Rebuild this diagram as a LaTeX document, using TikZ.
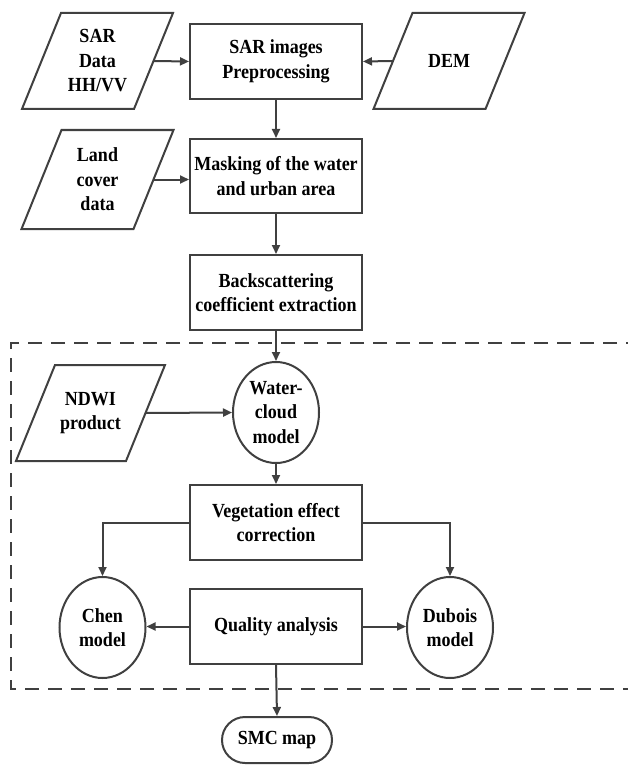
\documentclass[tikz,border=0pt]{standalone}
\usepackage{fontspec}
\setmainfont{Liberation Serif}[FakeStretch=0.9]
\usetikzlibrary{shapes.geometric,arrows.meta,positioning}
\definecolor{edge}{HTML}{404040}
\tikzset{
  x=1pt, y=-1pt,
  base/.style={draw=edge, line width=2pt, align=center, inner sep=0pt,
    font=\fontsize{20}{24.5}\selectfont\bfseries},
  procbox/.style={base, rectangle, minimum width=172pt, minimum height=75pt},
  % text holder of a data input; its slanted outline is drawn by \slantframe
  databox/.style={base, draw=none, rectangle, minimum width=110pt, minimum height=94pt},
  outline/.style={draw=edge, line width=2pt, line join=miter},
  modelnode/.style={base, ellipse, minimum width=86pt, minimum height=101pt},
  endnode/.style={base, rectangle, rounded corners=23pt, minimum width=110pt, minimum height=46pt},
  flow/.style={draw=edge, line width=2pt, -{Triangle[length=9pt,width=8pt]}},
  frame/.style={draw=edge, line width=1.6pt, dash pattern=on 14pt off 9pt}
}
% parallelogram round a data node, slanting to the right
\newcommand\slantframe[2][19.5pt]{%
  \draw[outline] ([xshift=-#1]#2.south west) -- ([xshift=#1]#2.north west)
    -- ([xshift=#1]#2.north east) -- ([xshift=-#1]#2.south east) -- cycle;}
\begin{document}
\begin{tikzpicture}
\useasboundingbox (0,0) rectangle (627,765);

% dashed frame around the modelling stage
\draw[frame] (640,343) -- (11,343) -- (11,689) -- (640,689);

% inputs and preprocessing
\node[databox] (sar) at (97.5,61) {SAR\\Data\\HH/VV};
\slantframe{sar}
\node[procbox] (pre) at (276,61.5) {SAR images\\Preprocessing};
\node[databox] (dem) at (449,61) {DEM};
\slantframe{dem}
\node[databox, minimum height=97pt] (land) at (97.5,179.5) {Land\\cover\\data};
\slantframe[20pt]{land}
\node[procbox, minimum height=74pt] (mask) at (276,176) {Masking of the water\\and urban area};
\node[procbox] (back) at (276,292.5) {Backscattering\\coefficient extraction};

% modelling stage
\node[databox, minimum width=108pt] (ndwi) at (90.5,413) {NDWI\\product};
\slantframe{ndwi}
\node[modelnode] (wc) at (276,412.5) {Water-\\cloud\\model};
\node[procbox] (veg) at (276,522.5) {Vegetation effect\\correction};
\node[modelnode] (chen) at (102.5,627.5) {Chen\\model};
\node[modelnode] (dub) at (450,627.5) {Dubois\\model};
\node[procbox] (qa) at (276,626.5) {Quality analysis};

% output
\node[endnode] (smc) at (277,740) {SMC map};

% connectors
\draw[flow] (sar.east) -- (pre.west);
\draw[flow] (dem.west) -- (pre.east);
\draw[flow] (pre.south) -- (mask.north);
\draw[flow] (land.east) -- (land.east -| mask.west);
\draw[flow] (mask.south) -- (back.north);
\draw[flow] (back.south) -- (wc.north);
\draw[flow] (ndwi.east) -- (wc.west);
\draw[flow] (wc.south) -- (veg.north);
\draw[flow] (veg.west) -| (chen.north);
\draw[flow] (veg.east) -| (dub.north);
\draw[flow] (qa.west) -- (qa.west -| chen.east);
\draw[flow] (qa.east) -- (qa.east -| dub.west);
\draw[flow] (qa.south) -- (smc.north);
\end{tikzpicture}
\end{document}
